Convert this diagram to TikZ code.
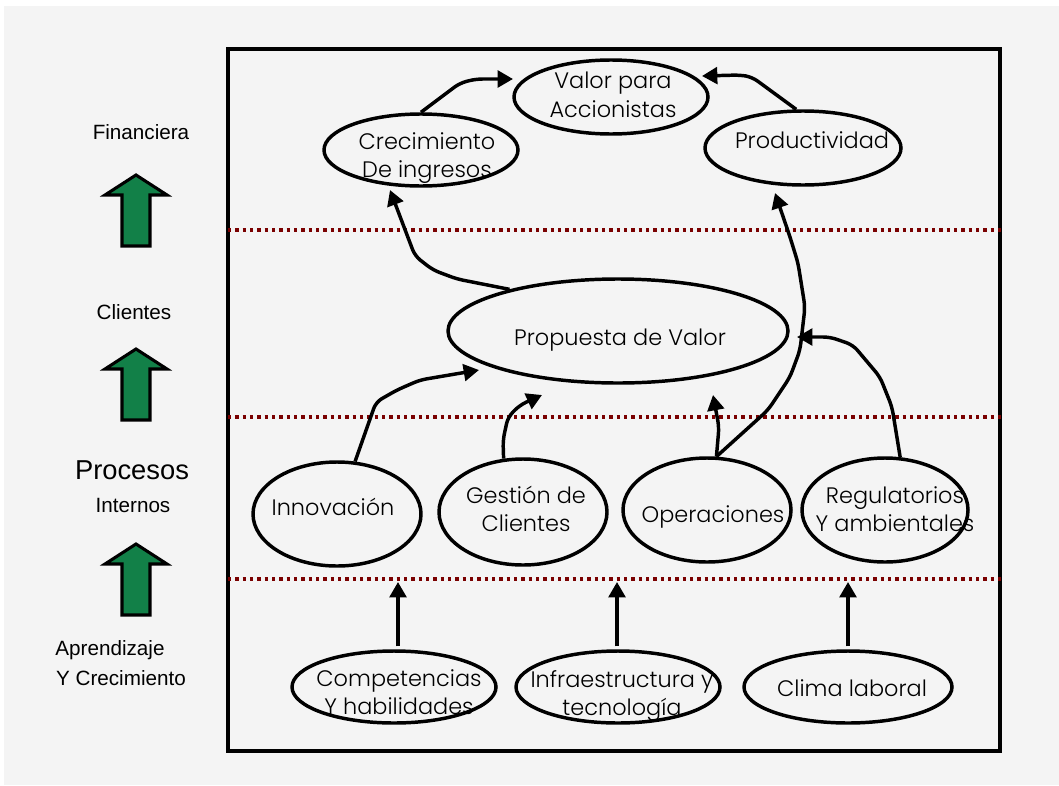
\documentclass[tikz,border=0pt]{standalone}
\usepackage{fontspec}
\setmainfont{Liberation Sans}
\newfontfamily\geo{Poppins}[UprightFont=* Light]
\usetikzlibrary{shapes.geometric,arrows.meta,calc}
\definecolor{bg}{HTML}{F4F4F4}
\definecolor{dotred}{HTML}{7A0000}
\definecolor{upgreen}{HTML}{128048}

\begin{document}
\begin{tikzpicture}[x=0.75pt,y=-0.75pt,
  ell/.style 2 args={ellipse,draw,line width=2.6pt,minimum width=#1*1.5pt,minimum height=#2*1.5pt,inner sep=0pt},
  etext/.style={font=\geo\fontsize{16.8}{21.5}\selectfont,align=center,inner sep=0pt},
  ltext/.style={font=\fontsize{15.5}{20}\selectfont,align=center,inner sep=0pt},
  conn/.style={line width=2.6pt,rounded corners=5pt,-{Triangle[length=11.5pt,width=12.5pt]}},
  level/.style={dotred,line width=2.4pt,dash pattern=on 2.6pt off 2.9pt},
  uparrow/.pic={\filldraw[fill=upgreen,draw=black,line width=2.3pt,miter limit=4]
    (0,1) -- (31,21) -- (14,21) -- (14,72) -- (-14,72) -- (-14,21) -- (-31,21) -- cycle;}
]
% page and background
\fill[white] (0,0) rectangle (1059,785);
\fill[bg] (4,6) rectangle (1059,785);
\useasboundingbox (0,0) rectangle (1059,785);

% frame and level separators
\draw[line width=2.3pt] (228,49) rectangle (1000,751);
\draw[level] (228,230) -- (1005,230);
\draw[level] (228,417) -- (1005,417);
\draw[level] (228,579) -- (1005,579);

% perspective labels and arrows
\node[ltext] (lfin) at (141,132) {Financiera};
\pic at (136,174) {uparrow};
\node[ltext] (lcli) at (134,312) {Clientes};
\pic at (136,348) {uparrow};
\node[ltext,font=\fontsize{20.5}{24}\selectfont] (lpro) at (132,470) {Procesos};
\node[ltext] (lint) at (133,505) {Internos};
\pic at (136,543) {uparrow};
\node[ltext] (lapr) at (110,650) {Aprendizaje};
\node[ltext] (lcre) at (121,678) {Y Crecimiento};

% objectives
\node[ell={97}{37}] (val) at (611,97) {};
\node[ell={97}{36}] (crec) at (421,150) {};
\node[ell={98}{37}] (prod) at (803,148) {};
\node[ell={170}{52}] (prop) at (618,331) {};
\node[ell={84}{52}] (inn) at (337,514) {};
\node[ell={84}{53}] (gest) at (523,512) {};
\node[ell={84}{52}] (op) at (707,510) {};
\node[ell={83}{52}] (reg) at (885,510) {};
\node[ell={102}{36}] (comp) at (394,687) {};
\node[ell={102}{36}] (infra) at (618,687) {};
\node[ell={104}{36}] (clima) at (848,687) {};

\node[etext] (tval) at (613,95) {Valor para\\Accionistas};
\node[etext] (tcrec) at (427,158) {Crecimiento\\De ingresos};
\node[etext] (tprod) at (812,140) {Productividad};
\node[etext] (tprop) at (620,340) {Propuesta de Valor};
\node[etext] (tinn) at (333,507) {Innovación};
\node[etext] (tgest) at (526,509) {Gestión de\\Clientes};
\node[etext] (top) at (713,517) {Operaciones};
\node[etext] (treg) at (895,509) {Regulatorios\\Y ambientales};
\node[etext] (tcomp) at (399,692) {Competencias\\Y habilidades};
\node[etext] (tinfra) at (622,696) {Infraestructura y\\tecnología};
\node[etext] (tclima) at (852,688) {Clima laboral};

% free arrow ends
\coordinate (eval1) at (513,79);
\coordinate (eval2) at (702,76);
\coordinate (ecrec) at (390,190);
\coordinate (eprod) at (775,193);
\coordinate (eprop1) at (479,370);
\coordinate (eprop2) at (542,395);
\coordinate (eprop3) at (713,395);
\coordinate (eprop4) at (797,337);
\coordinate (einn) at (398,582);
\coordinate (egest) at (617,582);
\coordinate (eop) at (848,582);

% cause and effect links
\draw[conn] (crec.north) -- (460,83) -- (476,79) -- (eval1);
\draw[conn] (prod.100) -- (752,77) -- (740,75) -- (eval2);
\draw[conn] (prop.159) -- (457,279) -- (433,270) -- (415,256) -- (ecrec);
\draw[conn] (op.80) -- (768,410) -- (790,377) -- (800,350) -- (805,307) -- (798,263) -- (790,237) -- (eprod);
\draw[conn] (op.80) -- (719,427) -- (eprop3);
\draw[conn] (reg.74) -- (892,407) -- (880,377) -- (853,345) -- (830,337) -- (eprop4);
\draw[conn] (inn.71) -- (376,402) -- (397,390) -- (420,380) -- (eprop1);
\draw[conn] (gest.110) -- (503,440) -- (508,417) -- (520,405) -- (eprop2);
\draw[conn] ($(einn |- comp.north)+(0,-3)$) -- (einn);
\draw[conn] ($(egest |- infra.north)+(0,-3)$) -- (egest);
\draw[conn] ($(eop |- clima.north)+(0,-3)$) -- (eop);
\end{tikzpicture}
\end{document}
